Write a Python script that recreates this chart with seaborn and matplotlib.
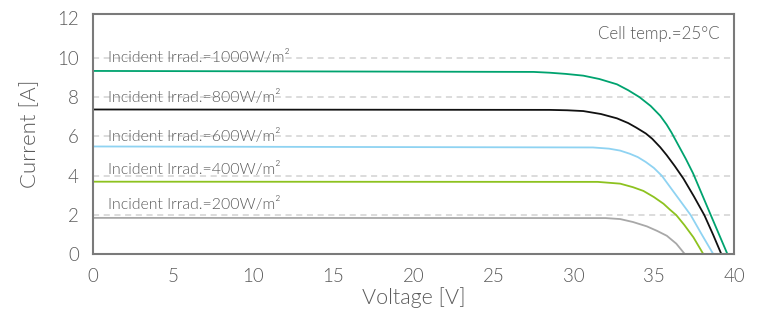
import pandas as pd
import seaborn as sns
import matplotlib.pyplot as plt

# I-V curves
irradiance = ['1000', '800', '600', '400', '200']

v_1000 = [0, 27.5, 28.5, 29.5, 30.6, 31.6, 32.7, 33.4, 34.1, 34.8, 35.4,
          35.8, 36.1, 36.5, 37.0, 37.45, 38.5, 39.6]
i_1000 = [9.33, 9.28, 9.24, 9.18, 9.09, 8.92, 8.65, 8.35, 8.0, 7.55, 7.05,
          6.6, 6.2, 5.6, 4.85, 4.12, 2.1, 0]

v_800 = [0, 28.5, 29.6, 30.6, 31.7, 32.7, 33.4, 33.9, 34.5, 34.9, 35.4,
         35.8, 36.3, 36.85, 37.5, 38.15, 38.7, 39.22]
i_800 = [7.37, 7.35, 7.33, 7.29, 7.14, 6.92, 6.68, 6.45, 6.15, 5.88, 5.45,
         5.05, 4.5, 3.85, 2.95, 2.0, 1.0, 0]

v_600 = [0, 31.2, 32.2, 32.9, 33.5, 34.0, 34.5, 35.0, 35.5, 36.4, 37.3,
         38.0, 38.72]
i_600 = [5.49, 5.44, 5.38, 5.28, 5.12, 4.95, 4.7, 4.4, 4.0, 3.0, 2.0,
         1.0, 0]

v_400 = [0, 31.5, 32.9, 33.7, 34.35, 35.0, 35.6, 36.0, 36.4, 36.9, 37.47, 38.1]
i_400 = [3.70, 3.69, 3.60, 3.42, 3.23, 2.92, 2.58, 2.28, 2.0, 1.5, 0.87, 0]

v_200 = [0, 32.0, 32.9, 33.7, 34.56, 35.2, 35.81, 36.4, 36.95]
i_200 = [1.86, 1.85, 1.80, 1.65, 1.43, 1.2, 0.95, 0.55, 0]

label_y = [10.0, 8.0, 6.0, 4.3, 2.55]
colors = ['#00a36f', '#111111', '#8fd3f2', '#8dc21f', '#a8a8a8']

volts = [v_1000, v_800, v_600, v_400, v_200]
amps = [i_1000, i_800, i_600, i_400, i_200]

frames = []
for name, v, i in zip(irradiance, volts, amps):
    frames.append(pd.DataFrame({'Voltage': v, 'Current': i, 'Irrad': name}))
df = pd.concat(frames, ignore_index=True)

sns.set_style('white')
plt.rcParams['font.family'] = ['Lato', 'DejaVu Sans']
plt.rcParams['font.weight'] = 300
plt.rcParams['axes.labelweight'] = 300

fig = plt.figure(figsize=(7.63, 3.13), dpi=100)
ax = fig.add_axes([0.1215, 0.187, 0.8405, 0.768])

# dashed horizontal guides
for y in [2, 4, 6, 8, 10]:
    ax.axhline(y, color='#d2d2d2', lw=1.1, ls=(0, (4, 3)), zorder=0)

sns.lineplot(data=df, x='Voltage', y='Current', hue='Irrad',
             palette=dict(zip(irradiance, colors)), sort=False,
             estimator=None, legend=False, lw=1.3, ax=ax)

for name, y in zip(irradiance, label_y):
    ax.text(0.97, y, 'Incident Irrad.=' + name + 'W/m²', va='center',
            ha='left', color='#5a5a5a', fontsize=11.4)

ax.text(39.1, 11.19, 'Cell temp.=25°C', va='center', ha='right',
        color='#5a5a5a', fontsize=12.2)

ax.set_xlim(0, 40)
ax.set_ylim(0, 12.22)
ax.set_xticks(range(0, 41, 5))
ax.set_yticks(range(0, 13, 2))
ax.tick_params(length=0, pad=10, labelsize=13.5, labelcolor='#5a5a5a')
ax.set_xlabel('Voltage [V]', fontsize=15.5, color='#5a5a5a', labelpad=1)
ax.set_ylabel('Current [A]', fontsize=16, color='#5a5a5a', labelpad=12)
for s in ax.spines.values():
    s.set_color('#7a7a7a')
    s.set_linewidth(1.5)

plt.savefig('out.png', dpi=100)
